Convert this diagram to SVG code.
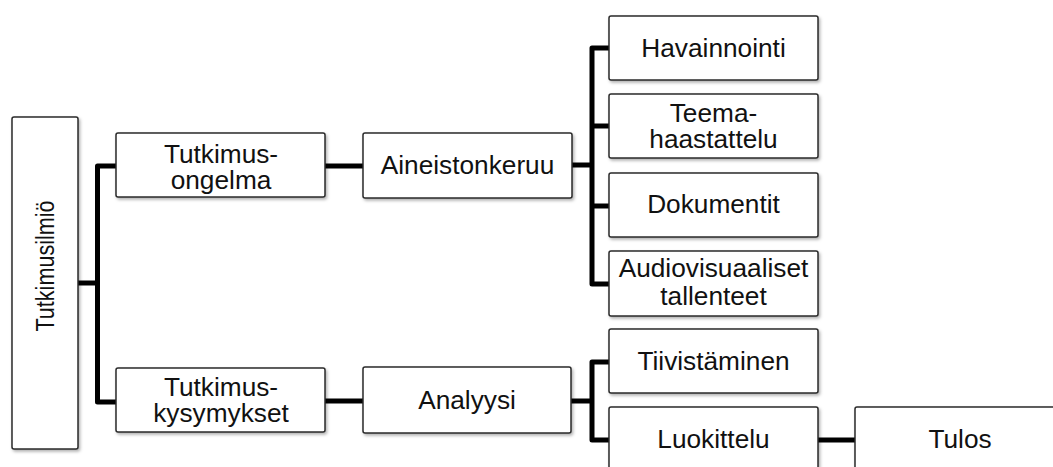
<svg xmlns="http://www.w3.org/2000/svg" width="1053" height="467" viewBox="0 0 1053 467">
<defs>
<filter id="sh" x="-10%" y="-10%" width="130%" height="130%">
<feDropShadow dx="1.5" dy="2" stdDeviation="1.5" flood-color="#000" flood-opacity="0.3"/>
</filter>
<style>
.box{fill:#fff;stroke:#2a2a2a;stroke-width:1.5;filter:url(#sh)}
.t{font-family:"Liberation Sans",Arial,Helvetica,sans-serif;font-size:25px;fill:#111;text-anchor:middle}
.r{font-size:21.6px}
.c{fill:none;stroke:#000;stroke-width:5;stroke-linejoin:round}
</style>
</defs>
<rect width="1053" height="467" fill="#fff"/>
<g id="connectors">
<path class="c" d="M78,283 H97.5"/>
<path class="c" d="M116,166 H97.5 V402 H116"/>
<path class="c" d="M325,166 H363"/>
<path class="c" d="M325,401 H363"/>
<path class="c" d="M572,165 H592"/>
<path class="c" d="M609,48 H592 V284 H609"/>
<path class="c" d="M592,126 H609"/>
<path class="c" d="M592,206 H609"/>
<path class="c" d="M571,401 H592"/>
<path class="c" d="M609,362 H592 V440 H609"/>
<path class="c" d="M818,440 H855"/>
</g>
<g id="tutkimusilmio">
<rect class="box" x="12" y="117" width="66" height="332" rx="2"/>
<text class="t r" transform="translate(44.5,266) scale(1.2,1) rotate(-90)" x="0" y="7.7">Tutkimusilmiö</text>
</g>
<g id="tutkimusongelma">
<rect class="box" x="116" y="133" width="209" height="64" rx="2"/>
<text class="t" transform="translate(221,162.5) scale(1.05,1)">Tutkimus-</text>
<text class="t" transform="translate(221,188.5) scale(1.05,1)">ongelma</text>
</g>
<g id="tutkimuskysymykset">
<rect class="box" x="116" y="368" width="209" height="64" rx="2"/>
<text class="t" transform="translate(221,396) scale(1.05,1)">Tutkimus-</text>
<text class="t" transform="translate(221,422) scale(1.05,1)">kysymykset</text>
</g>
<g id="aineistonkeruu">
<rect class="box" x="363" y="133" width="209" height="65" rx="2"/>
<text class="t" transform="translate(467.5,174.3) scale(1.05,1)">Aineistonkeruu</text>
</g>
<g id="analyysi">
<rect class="box" x="363" y="367" width="208" height="66" rx="2"/>
<text class="t" transform="translate(467,409.3) scale(1.05,1)">Analyysi</text>
</g>
<g id="havainnointi">
<rect class="box" x="609" y="16" width="209" height="64" rx="2"/>
<text class="t" transform="translate(713.5,56.8) scale(1.05,1)">Havainnointi</text>
</g>
<g id="teemahaastattelu">
<rect class="box" x="609" y="94" width="209" height="64" rx="2"/>
<text class="t" transform="translate(713.5,121.7) scale(1.05,1)">Teema-</text>
<text class="t" transform="translate(713.5,148.3) scale(1.05,1)">haastattelu</text>
</g>
<g id="dokumentit">
<rect class="box" x="609" y="173" width="209" height="64" rx="2"/>
<text class="t" transform="translate(713.5,213.3) scale(1.05,1)">Dokumentit</text>
</g>
<g id="audiovisuaaliset">
<rect class="box" x="609" y="251" width="209" height="65" rx="2"/>
<text class="t" transform="translate(713.5,277.3) scale(1.05,1)">Audiovisuaaliset</text>
<text class="t" transform="translate(713.5,305) scale(1.05,1)">tallenteet</text>
</g>
<g id="tiivistaminen">
<rect class="box" x="609" y="329" width="209" height="64" rx="2"/>
<text class="t" transform="translate(713.5,370) scale(1.05,1)">Tiivistäminen</text>
</g>
<g id="luokittelu">
<rect class="box" x="609" y="407" width="209" height="64" rx="2"/>
<text class="t" transform="translate(713.5,448.3) scale(1.05,1)">Luokittelu</text>
</g>
<g id="tulos">
<rect class="box" x="855" y="407" width="209" height="64" rx="2"/>
<text class="t" transform="translate(960,448) scale(1.05,1)">Tulos</text>
</g>
</svg>
